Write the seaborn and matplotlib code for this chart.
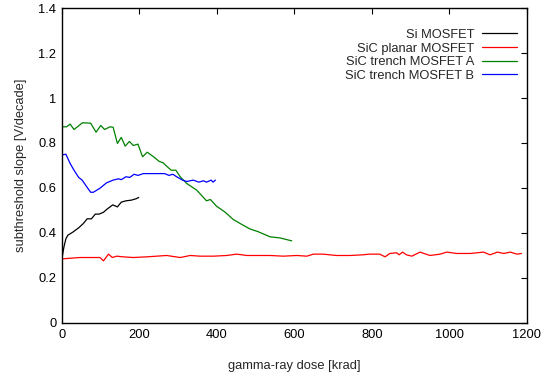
import matplotlib
matplotlib.use("Agg")
import matplotlib.pyplot as plt
import seaborn as sns
import pandas as pd

# Subthreshold slope vs. accumulated gamma-ray dose
si_dose = [0, 5, 10, 15, 29, 43, 55, 65, 76, 86, 96, 107, 117, 131, 143, 153, 165, 179, 191, 198]
si_slope = [0.288, 0.338, 0.374, 0.390, 0.405, 0.423, 0.442, 0.463, 0.463, 0.484, 0.484, 0.492,
            0.507, 0.525, 0.516, 0.537, 0.543, 0.546, 0.552, 0.558]

planar_dose = [0, 46, 98, 107, 120, 130, 141, 158, 184, 219, 270, 305, 331, 356, 391, 425, 451,
               477, 511, 537, 571, 606, 632, 649, 674, 708, 743, 777, 794, 820, 834, 846, 864,
               870, 879, 889, 903, 924, 950, 976, 993, 1019, 1054, 1088, 1105, 1124, 1140,
               1157, 1174, 1186]
planar_slope = [0.285, 0.291, 0.291, 0.276, 0.306, 0.291, 0.297, 0.294, 0.291, 0.294, 0.300,
                0.291, 0.300, 0.297, 0.297, 0.300, 0.306, 0.300, 0.300, 0.300, 0.297, 0.300,
                0.297, 0.306, 0.306, 0.300, 0.300, 0.303, 0.306, 0.306, 0.294, 0.309, 0.312,
                0.303, 0.315, 0.303, 0.297, 0.315, 0.300, 0.306, 0.315, 0.309, 0.309, 0.315,
                0.303, 0.315, 0.309, 0.315, 0.306, 0.309]

trench_a_dose = [0, 12, 21, 31, 53, 74, 88, 100, 110, 124, 132, 143, 153, 163, 174, 184, 196,
                 208, 220, 236, 251, 261, 272, 282, 294, 305, 322, 348, 373, 383, 399, 420,
                 442, 463, 485, 506, 537, 563, 593]
trench_a_slope = [0.872, 0.872, 0.884, 0.860, 0.890, 0.888, 0.848, 0.878, 0.860, 0.872, 0.870,
                  0.798, 0.825, 0.786, 0.807, 0.789, 0.795, 0.739, 0.759, 0.739, 0.718, 0.712,
                  0.694, 0.679, 0.679, 0.650, 0.620, 0.590, 0.543, 0.549, 0.519, 0.494, 0.460,
                  0.439, 0.418, 0.406, 0.383, 0.378, 0.365]

trench_b_dose = [0, 10, 21, 31, 43, 52, 64, 74, 81, 98, 115, 132, 146, 153, 165, 175, 186, 196,
                 210, 236, 265, 276, 286, 296, 311, 322, 339, 353, 365, 373, 385, 390, 396]
trench_b_slope = [0.747, 0.750, 0.709, 0.679, 0.647, 0.635, 0.605, 0.581, 0.581, 0.599, 0.623,
                  0.635, 0.641, 0.637, 0.650, 0.647, 0.661, 0.656, 0.664, 0.664, 0.664, 0.656,
                  0.661, 0.650, 0.635, 0.629, 0.635, 0.626, 0.632, 0.626, 0.635, 0.626, 0.635]

devices = ["Si MOSFET", "SiC planar MOSFET", "SiC trench MOSFET A", "SiC trench MOSFET B"]
colors = ["#000000", "#ff0000", "#008000", "#0000ff"]

frames = []
for name, d, s in zip(devices,
                      [si_dose, planar_dose, trench_a_dose, trench_b_dose],
                      [si_slope, planar_slope, trench_a_slope, trench_b_slope]):
    frames.append(pd.DataFrame({"dose": d, "slope": s, "device": name}))
df = pd.concat(frames, ignore_index=True)

sns.set_style("white")
plt.rcParams["font.family"] = ["Liberation Sans", "DejaVu Sans"]
fs = 9.3
plt.rcParams["font.size"] = fs

fig = plt.figure(figsize=(5.57, 3.76), dpi=100)
ax = fig.add_axes([0.1113, 0.141, 0.8347, 0.8377])

sns.lineplot(data=df, x="dose", y="slope", hue="device", hue_order=devices,
             palette=dict(zip(devices, colors)), estimator=None, sort=False,
             linewidth=0.9, ax=ax)

ax.set_xlim(0, 1200)
ax.set_ylim(0, 1.4)
ax.set_xticks(range(0, 1201, 200))
ax.set_yticks([0, 0.2, 0.4, 0.6, 0.8, 1.0, 1.2, 1.4])
ax.set_yticklabels(["0", "0.2", "0.4", "0.6", "0.8", "1", "1.2", "1.4"])
ax.set_xlabel("gamma-ray dose [krad]", fontsize=fs, labelpad=14)
ax.set_ylabel("subthreshold slope [V/decade]", fontsize=fs, labelpad=8)

for sp in ax.spines.values():
    sp.set_visible(True)
    sp.set_color("black")
    sp.set_linewidth(1.0)
ax.tick_params(direction="in", length=4, width=0.8, top=True, right=True,
               labelsize=fs, colors="black", pad=4)

ax.legend(loc="upper right", frameon=False, markerfirst=False, fontsize=fs,
          handlelength=2.7, handletextpad=0.6, labelspacing=0.12,
          bbox_to_anchor=(0.99, 0.95), borderaxespad=0)

fig.savefig("out.png", dpi=100)
